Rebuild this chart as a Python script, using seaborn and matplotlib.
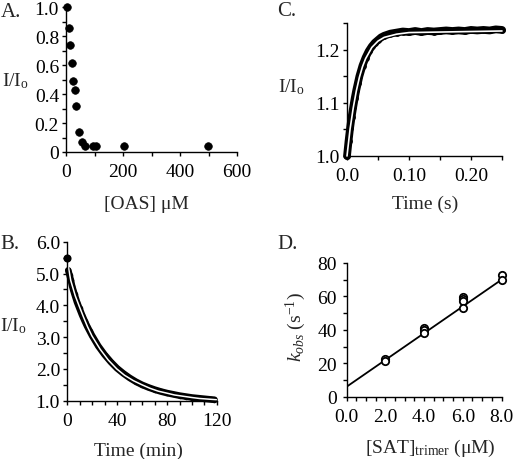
import numpy as np
import pandas as pd
import matplotlib
matplotlib.use("Agg")
import matplotlib.pyplot as plt
from matplotlib.ticker import MultipleLocator, FixedLocator
import seaborn as sns

# ---------------- data ----------------
# Panel A: fluorescence vs [OAS]
oas_conc = [5, 10, 15, 20, 25, 30, 35, 46, 56, 67, 96, 105, 204, 497]
oas_ratio = [1.0, 0.857, 0.742, 0.615, 0.493, 0.429, 0.316, 0.136, 0.067, 0.044, 0.044, 0.044, 0.041, 0.041]

# Panel B: decay over time (min)
b_first_t = [0]
b_first_y = [5.50]
b_time = [1, 2, 3, 4, 5, 6, 8, 10, 12, 14, 16, 18, 20, 25, 30, 35, 40, 45, 50, 55,
          60, 65, 70, 75, 80, 85, 90, 95, 100, 105, 110, 115, 118]
b_ratio = [5.10, 4.95, 4.80, 4.62, 4.48, 4.35, 4.10, 3.90, 3.70, 3.52, 3.35, 3.20, 3.05,
           2.72, 2.45, 2.22, 2.02, 1.86, 1.72, 1.60, 1.50, 1.42, 1.35, 1.29, 1.24, 1.20,
           1.16, 1.13, 1.10, 1.08, 1.06, 1.04, 1.03]
b_fit_t = [0.8, 3, 6.6, 10, 13.3, 16.5, 19.9, 26.5, 33, 39.8, 46, 53.1, 60, 66.4, 73, 79.6,
           86, 92.9, 100, 106, 113, 119.5]
b_fit_y = [5.28, 4.78, 4.30, 3.95, 3.62, 3.32, 3.04, 2.62, 2.28, 2.00, 1.80, 1.63, 1.50,
           1.39, 1.30, 1.24, 1.18, 1.14, 1.10, 1.07, 1.05, 1.03]

# Panel C: stopped-flow trace (s)
c_time = [0, 0.0025, 0.005, 0.0075, 0.01, 0.0125, 0.015, 0.0175, 0.02, 0.025, 0.03, 0.035,
          0.04, 0.045, 0.05, 0.055, 0.06, 0.07, 0.08, 0.09, 0.10, 0.11, 0.12, 0.13, 0.14,
          0.15, 0.16, 0.17, 0.18, 0.19, 0.20, 0.21, 0.22, 0.23, 0.24, 0.25]
c_ratio = [1.0, 1.028, 1.053, 1.074, 1.092, 1.109, 1.124, 1.137, 1.150, 1.170, 1.185, 1.197,
           1.206, 1.213, 1.218, 1.223, 1.226, 1.230, 1.232, 1.234, 1.233, 1.235, 1.233,
           1.235, 1.234, 1.235, 1.236, 1.235, 1.236, 1.235, 1.237, 1.236, 1.237, 1.236,
           1.238, 1.237]
c_fit_t = [0, 0.005, 0.01, 0.015, 0.02, 0.025, 0.03, 0.04, 0.05, 0.06, 0.08, 0.10, 0.15, 0.20, 0.25]
c_fit_y = [1.0, 1.051, 1.09, 1.122, 1.148, 1.168, 1.183, 1.204, 1.216, 1.223, 1.229, 1.232,
           1.233, 1.234, 1.235]

# Panel D: kobs vs [SAT]trimer
sat_conc = [2, 2, 4, 4, 4, 6, 6, 6, 6, 8, 8]
kobs = [22.4, 21.6, 41.3, 40.1, 38.1, 59.7, 58.5, 57.3, 53.1, 72.8, 70.0]
d_fit_x = [0.0, 8.0]
d_fit_y = [6.0, 70.0]

# ---------------- style ----------------
sns.set_style("ticks")
plt.rcParams["font.family"] = ["Liberation Serif", "DejaVu Serif"]
plt.rcParams["mathtext.fontset"] = "custom"
plt.rcParams["mathtext.rm"] = "Liberation Serif"
plt.rcParams["mathtext.it"] = "Liberation Serif:italic"
FS = 14
plt.rcParams.update({
    "font.size": FS,
    "axes.linewidth": 1.0,
    "axes.edgecolor": "black",
    "xtick.color": "black",
    "ytick.color": "black",
    "xtick.direction": "out",
    "ytick.direction": "out",
    "xtick.major.size": 3,
    "ytick.major.size": 3,
    "xtick.minor.size": 3,
    "ytick.minor.size": 3,
    "xtick.major.width": 1.0,
    "ytick.major.width": 1.0,
    "xtick.minor.width": 1.0,
    "ytick.minor.width": 1.0,
    "xtick.major.pad": 5,
    "ytick.major.pad": 2,
})

W, H = 520, 460
fig = plt.figure(figsize=(W / 100, H / 100), dpi=100)


def add_axes(left, top, right, bottom):
    return fig.add_axes([left / W, 1 - bottom / H, (right - left) / W, (bottom - top) / H])


axA = add_axes(66, 8.3, 237, 153)
axC = add_axes(347, 24, 502, 157)
axB = add_axes(67, 242.7, 217, 401.7)
axD = add_axes(346.7, 264, 501.5, 397.7)

for ax in (axA, axB, axC, axD):
    sns.despine(ax=ax)
    ax.tick_params(labelsize=FS)
    ax.set_facecolor("white")

# ---- Panel A ----
dfA = pd.DataFrame({"conc": oas_conc, "ratio": oas_ratio})
sns.scatterplot(data=dfA, x="conc", y="ratio", ax=axA, color="black", s=30,
                edgecolor="black", linewidth=0.5, clip_on=False, zorder=5)
axA.set_xlim(0, 600)
axA.set_ylim(0, 1.0)
axA.xaxis.set_major_locator(FixedLocator([0, 200, 400, 600]))
axA.xaxis.set_minor_locator(FixedLocator([100, 300, 500]))
axA.yaxis.set_major_locator(FixedLocator([0, 0.2, 0.4, 0.6, 0.8, 1.0]))
axA.yaxis.set_minor_locator(FixedLocator([0.1, 0.3, 0.5, 0.7, 0.9]))
axA.set_yticklabels(["0", "0.2", "0.4", "0.6", "0.8", "1.0"])
axA.set_xlabel("[OAS] μM", fontsize=FS)
axA.xaxis.set_label_coords(0.468, -0.297)
axA.set_ylabel("I/I$_\\mathrm{o}$", fontsize=FS, rotation=0, ha="left", va="center")
axA.yaxis.set_label_coords(-0.374, 0.497)

# ---- Panel B ----
dfB = pd.DataFrame({"t": b_time, "y": b_ratio})
sns.lineplot(data=dfB, x="t", y="y", ax=axB, color="black", linewidth=4.8, clip_on=False)
sns.scatterplot(data=dfB, x="t", y="y", ax=axB, color="black", s=16, linewidth=0, clip_on=False)
sns.scatterplot(x=b_first_t, y=b_first_y, ax=axB, color="black", s=34, linewidth=0,
                clip_on=False, zorder=5)
sns.lineplot(x=b_fit_t, y=b_fit_y, ax=axB, color="white", linewidth=1.1, clip_on=False)
axB.set_xlim(0, 120)
axB.set_ylim(1.0, 6.0)
axB.xaxis.set_major_locator(FixedLocator([0, 40, 80, 120]))
axB.xaxis.set_minor_locator(MultipleLocator(10))
axB.yaxis.set_major_locator(FixedLocator([1, 2, 3, 4, 5, 6]))
axB.yaxis.set_minor_locator(MultipleLocator(0.5))
axB.set_yticklabels(["1.0", "2.0", "3.0", "4.0", "5.0", "6.0"])
axB.set_xlabel("Time (min)", fontsize=FS)
axB.xaxis.set_label_coords(0.473, -0.26)
axB.set_ylabel("I/I$_\\mathrm{o}$", fontsize=FS, rotation=0, ha="left", va="center")
axB.yaxis.set_label_coords(-0.447, 0.476)

# ---- Panel C ----
dfC = pd.DataFrame({"t": c_time, "y": c_ratio})
sns.lineplot(data=dfC, x="t", y="y", ax=axC, color="black", linewidth=5.6, clip_on=False)
sns.scatterplot(data=dfC, x="t", y="y", ax=axC, color="black", s=24, linewidth=0, clip_on=False)
sns.lineplot(x=c_fit_t, y=c_fit_y, ax=axC, color="white", linewidth=1.2, clip_on=False,
             zorder=4)
axC.set_xlim(0, 0.25)
axC.set_ylim(1.0, 1.25)
axC.xaxis.set_major_locator(FixedLocator([0, 0.10, 0.20]))
axC.xaxis.set_minor_locator(FixedLocator([0.05, 0.15, 0.25]))
axC.set_xticklabels(["0.0", "0.10", "0.20"])
axC.yaxis.set_major_locator(FixedLocator([1.0, 1.1, 1.2]))
axC.yaxis.set_minor_locator(FixedLocator([1.05, 1.15, 1.25]))
axC.set_yticklabels(["1.0", "1.1", "1.2"])
axC.set_xlabel("Time (s)", fontsize=FS)
axC.xaxis.set_label_coords(0.503, -0.293)
axC.set_ylabel("I/I$_\\mathrm{o}$", fontsize=FS, rotation=0, ha="left", va="center")
axC.yaxis.set_label_coords(-0.445, 0.526)

# ---- Panel D ----
sns.lineplot(x=d_fit_x, y=d_fit_y, ax=axD, color="black", linewidth=1.3)
dfD = pd.DataFrame({"sat": sat_conc, "kobs": kobs})
sns.scatterplot(data=dfD, x="sat", y="kobs", ax=axD, facecolor="white", edgecolor="black",
                s=28, linewidth=1.3, clip_on=False, zorder=5)
axD.set_xlim(0, 8)
axD.set_ylim(0, 80)
axD.xaxis.set_major_locator(FixedLocator([0, 2, 4, 6, 8]))
axD.xaxis.set_minor_locator(MultipleLocator(0.5))
axD.set_xticklabels(["0.0", "2.0", "4.0", "6.0", "8.0"])
axD.yaxis.set_major_locator(FixedLocator([0, 20, 40, 60, 80]))
axD.yaxis.set_minor_locator(MultipleLocator(10))
axD.set_xlabel("[SAT]$_\\mathrm{trimer}$ (μM)", fontsize=FS)
axD.xaxis.set_label_coords(0.538, -0.30)
axD.set_ylabel("$k_{obs}$ (s$^{-1}$)", fontsize=FS, ha="center", va="center")
axD.yaxis.set_label_coords(-0.327, 0.529)
axD.tick_params(axis="y", pad=4)

# panel letters
fig.text(1 / W, 1 - 12.5 / H, "A.", fontsize=15, ha="left", va="center")
fig.text(277 / W, 1 - 11 / H, "C.", fontsize=15, ha="left", va="center")
fig.text(0 / W, 1 - 245 / H, "B.", fontsize=15, ha="left", va="center")
fig.text(277 / W, 1 - 245 / H, "D.", fontsize=15, ha="left", va="center")

fig.savefig("out.png", dpi=100, facecolor="white")
